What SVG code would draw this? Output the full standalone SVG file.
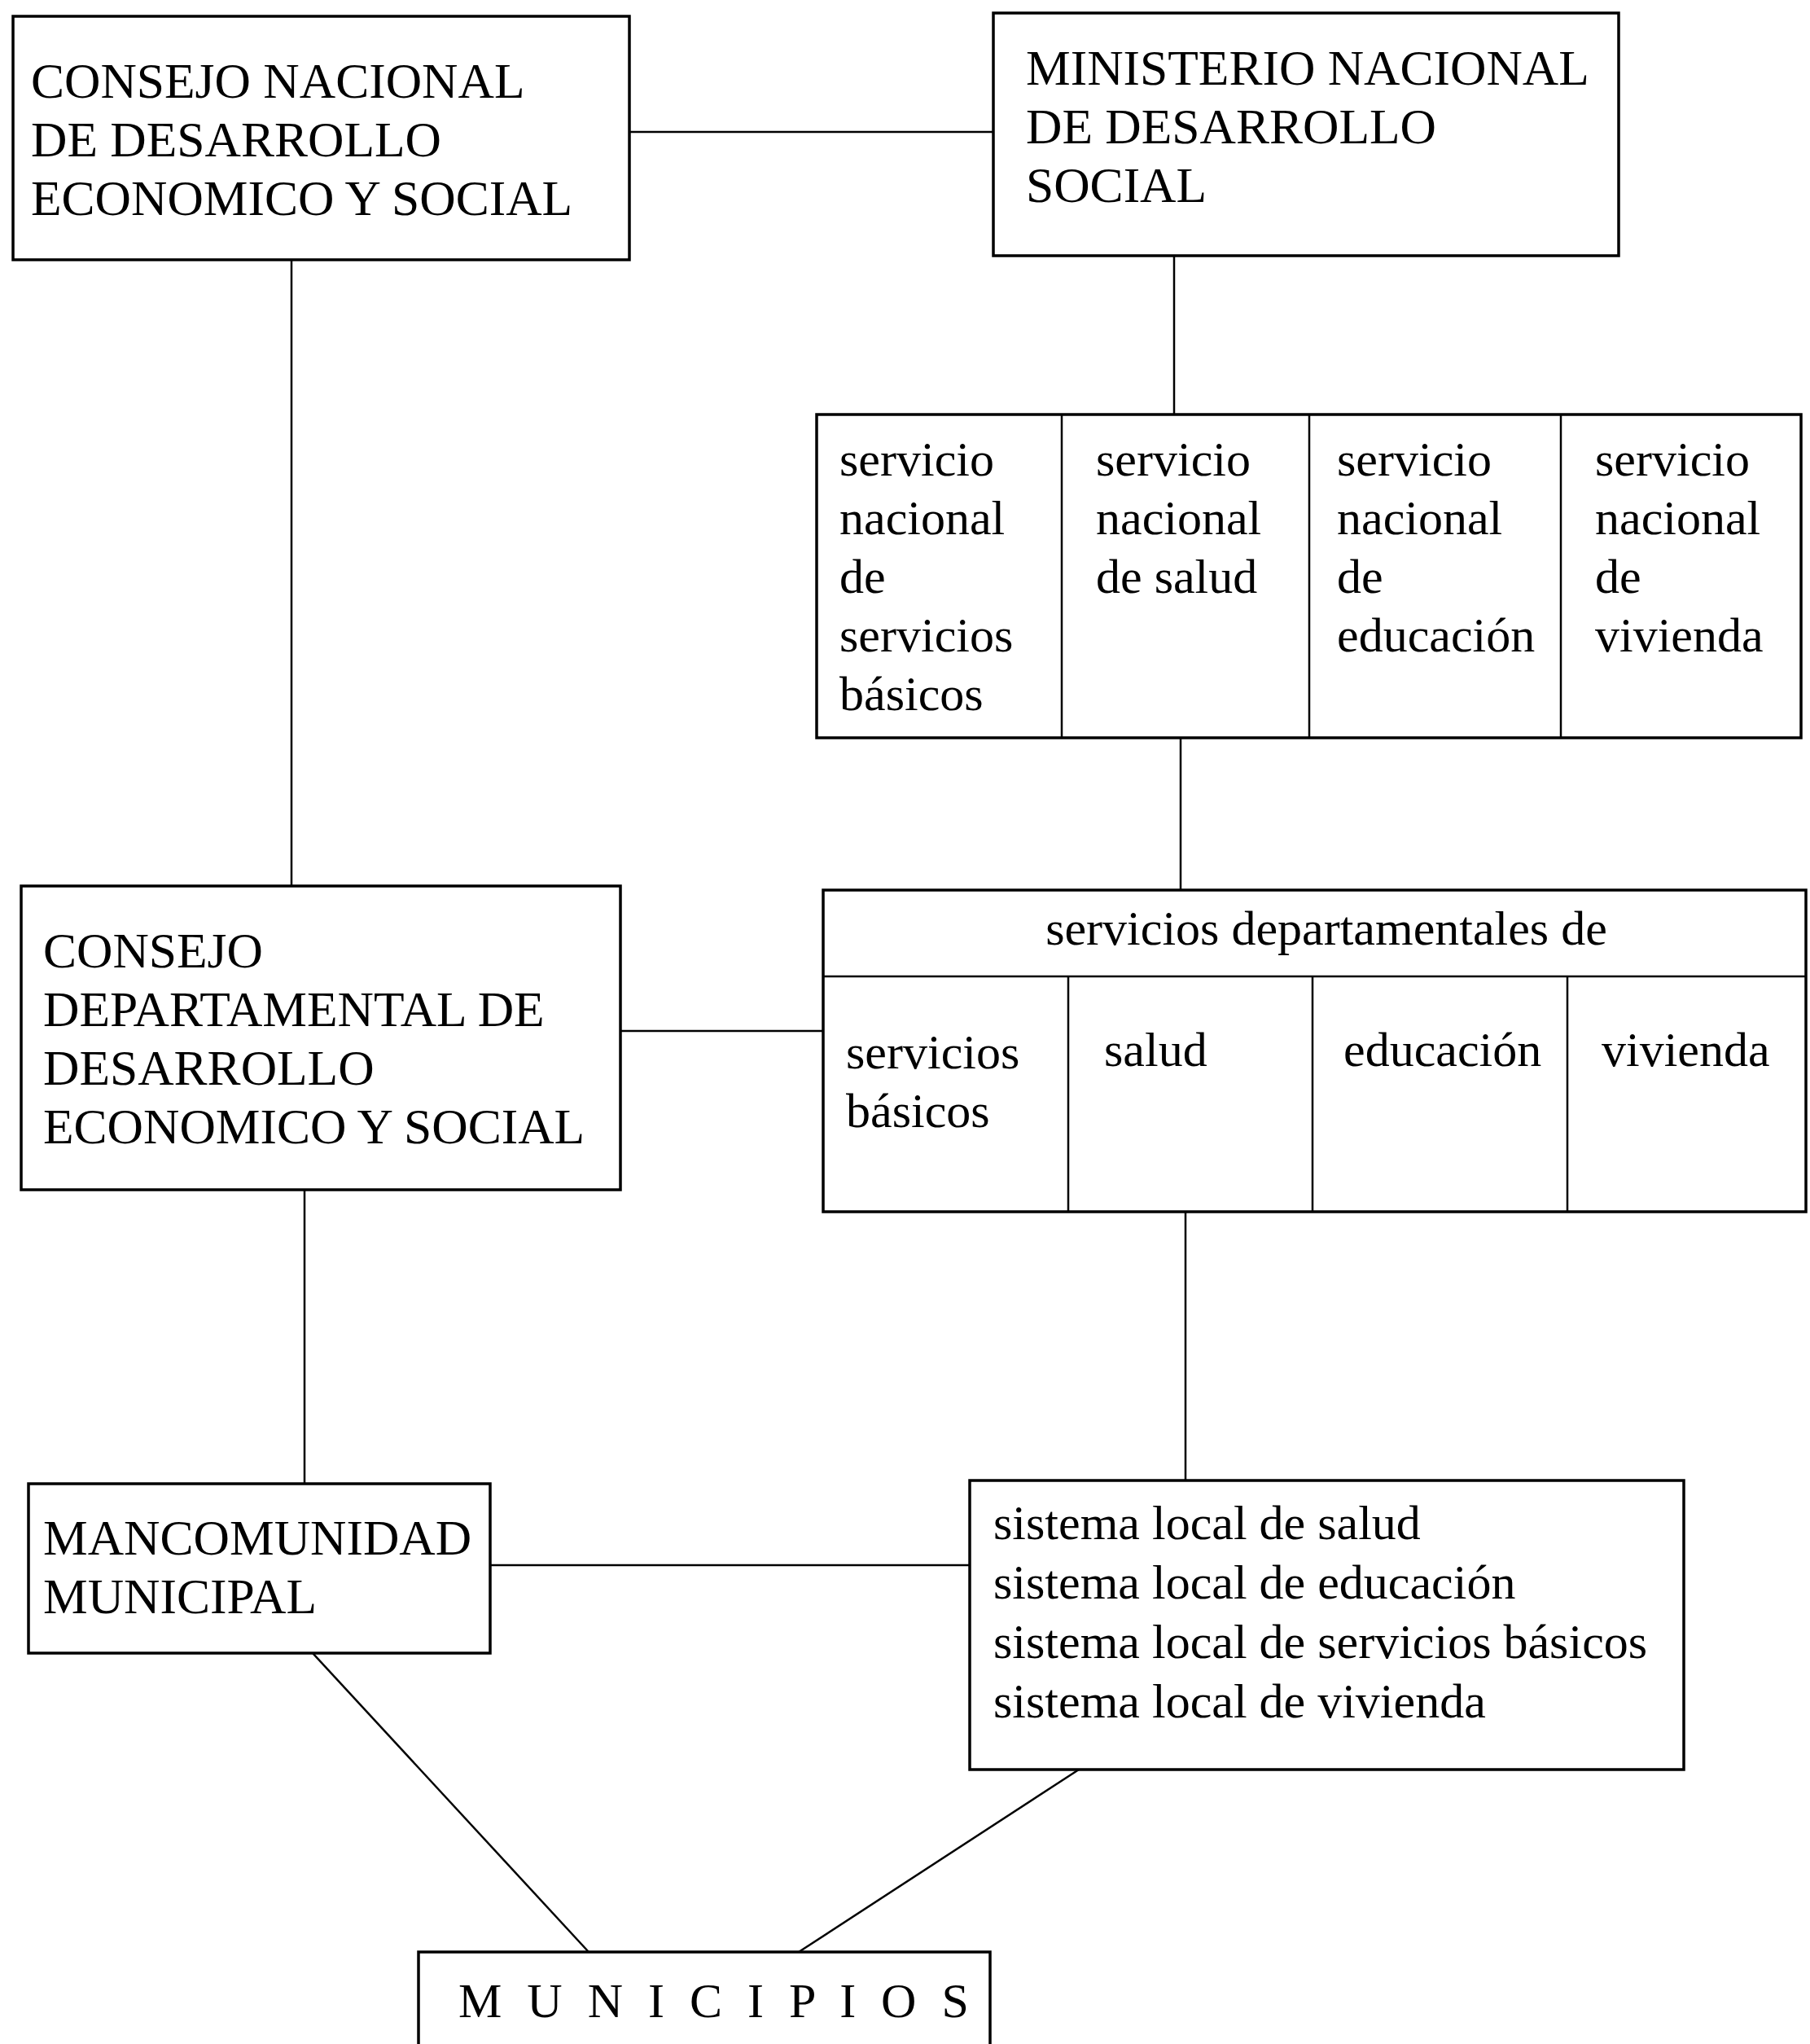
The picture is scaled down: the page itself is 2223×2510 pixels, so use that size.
<svg xmlns="http://www.w3.org/2000/svg" width="2223" height="2510" viewBox="0 0 2223 2510">
<style>
.box{fill:#fff;stroke:#000;stroke-width:3.5}
.div{stroke:#000;stroke-width:2.5;fill:none}
.con{stroke:#000;stroke-width:2.5;fill:none}
text{font-family:"Liberation Serif","Times New Roman",serif;font-size:60px;fill:#000}
text.up{font-size:61.5px}
</style>
<rect width="2223" height="2510" fill="#fff"/>
<g id="connectors">
<line class="con" x1="773" y1="162" x2="1220" y2="162"/>
<line class="con" x1="358" y1="320" x2="358" y2="1088"/>
<line class="con" x1="1442" y1="314" x2="1442" y2="509"/>
<line class="con" x1="1450" y1="906" x2="1450" y2="1093"/>
<line class="con" x1="762" y1="1266" x2="1011" y2="1266"/>
<line class="con" x1="374" y1="1461" x2="374" y2="1822"/>
<line class="con" x1="1456" y1="1488" x2="1456" y2="1818"/>
<line class="con" x1="602" y1="1922" x2="1191" y2="1922"/>
<line class="con" x1="384" y1="2030" x2="723" y2="2397"/>
<line class="con" x1="1325" y1="2173" x2="981" y2="2397"/>
</g>
<g id="consejo-nacional">
<rect class="box" x="16" y="20" width="757" height="299"/>
<text class="up" x="38" y="120">CONSEJO NACIONAL</text>
<text class="up" x="38" y="192">DE DESARROLLO</text>
<text class="up" x="38" y="264">ECONOMICO Y SOCIAL</text>
</g>
<g id="ministerio">
<rect class="box" x="1220" y="16" width="768" height="298"/>
<text class="up" x="1260" y="104">MINISTERIO NACIONAL</text>
<text class="up" x="1260" y="176">DE DESARROLLO</text>
<text class="up" x="1260" y="248">SOCIAL</text>
</g>
<g id="servicios-nacionales">
<rect class="box" x="1003" y="509" width="1209" height="397"/>
<line class="div" x1="1304" y1="509" x2="1304" y2="906"/>
<line class="div" x1="1608" y1="509" x2="1608" y2="906"/>
<line class="div" x1="1917" y1="509" x2="1917" y2="906"/>
<text x="1031" y="584">servicio</text>
<text x="1031" y="656">nacional</text>
<text x="1031" y="728">de</text>
<text x="1031" y="800">servicios</text>
<text x="1031" y="872">básicos</text>
<text x="1346" y="584">servicio</text>
<text x="1346" y="656">nacional</text>
<text x="1346" y="728">de salud</text>
<text x="1642" y="584">servicio</text>
<text x="1642" y="656">nacional</text>
<text x="1642" y="728">de</text>
<text x="1642" y="800">educación</text>
<text x="1959" y="584">servicio</text>
<text x="1959" y="656">nacional</text>
<text x="1959" y="728">de</text>
<text x="1959" y="800">vivienda</text>
</g>
<g id="servicios-departamentales">
<rect class="box" x="1011" y="1093" width="1207" height="395"/>
<line class="div" x1="1011" y1="1199" x2="2218" y2="1199"/>
<line class="div" x1="1312" y1="1199" x2="1312" y2="1488"/>
<line class="div" x1="1612" y1="1199" x2="1612" y2="1488"/>
<line class="div" x1="1925" y1="1199" x2="1925" y2="1488"/>
<text x="1629" y="1160" text-anchor="middle">servicios departamentales de</text>
<text x="1039" y="1312">servicios</text>
<text x="1039" y="1384">básicos</text>
<text x="1356" y="1309">salud</text>
<text x="1650" y="1309">educación</text>
<text x="1967" y="1309">vivienda</text>
</g>
<g id="consejo-departamental">
<rect class="box" x="26" y="1088" width="736" height="373"/>
<text class="up" x="53" y="1188">CONSEJO</text>
<text class="up" x="53" y="1260">DEPARTAMENTAL DE</text>
<text class="up" x="53" y="1332">DESARROLLO</text>
<text class="up" x="53" y="1404">ECONOMICO Y SOCIAL</text>
</g>
<g id="mancomunidad">
<rect class="box" x="35" y="1822" width="567" height="208"/>
<text class="up" x="53" y="1909">MANCOMUNIDAD</text>
<text class="up" x="53" y="1981">MUNICIPAL</text>
</g>
<g id="sistema-local">
<rect class="box" x="1191" y="1818" width="877" height="355"/>
<text x="1220" y="1890">sistema local de salud</text>
<text x="1220" y="1963">sistema local de educación</text>
<text x="1220" y="2036">sistema local de servicios básicos</text>
<text x="1220" y="2109">sistema local de vivienda</text>
</g>
<g id="municipios">
<rect class="box" x="514" y="2397" width="702" height="130"/>
<text x="563" y="2477" letter-spacing="8">M U N I C I P I O S</text>
</g>
</svg>
